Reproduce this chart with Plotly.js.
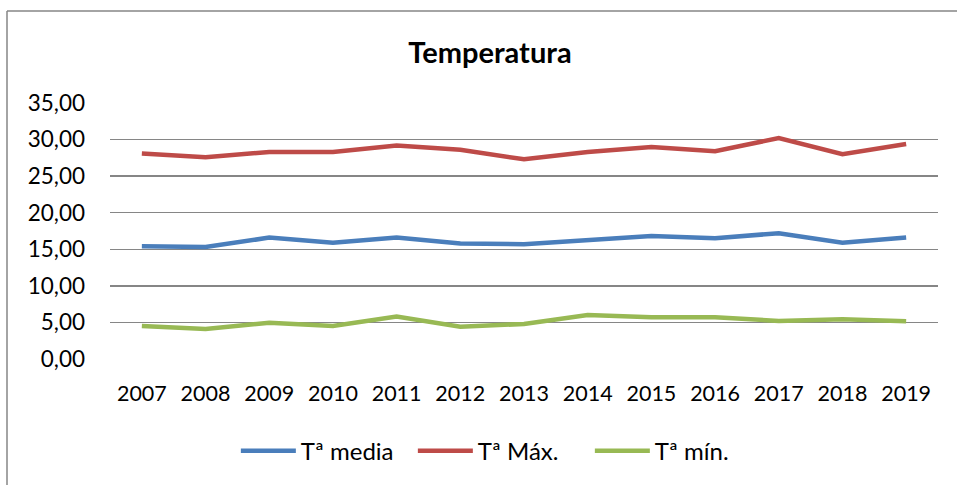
<!DOCTYPE html>
<html>
<head>
<meta charset="utf-8">
<script src="https://cdn.plot.ly/plotly-3.0.1.min.js"></script>
<style>html,body{margin:0;padding:0;background:#fff;}#chart{width:957px;height:485px;}</style>
</head>
<body>
<div id="chart"></div>
<script>
const years = ["2007","2008","2009","2010","2011","2012","2013","2014","2015","2016","2017","2018","2019"];
const tMedia = [15.4, 15.3, 16.6, 15.9, 16.6, 15.8, 15.7, 16.2, 16.8, 16.5, 17.2, 15.9, 16.6];
const tMax   = [28.1, 27.6, 28.3, 28.3, 29.2, 28.6, 27.3, 28.3, 29.0, 28.4, 30.2, 28.0, 29.4];
const tMin   = [4.5, 4.1, 4.95, 4.5, 5.8, 4.4, 4.8, 6.0, 5.7, 5.7, 5.2, 5.45, 5.15];
const seriesNames = ["Tª media", "Tª Máx.", "Tª mín."];
const colors = ["#4A7EBB", "#BE4B48", "#98B954"];

const FONT = "Lato, 'Open Sans', sans-serif";
const traces = [tMedia, tMax, tMin].map((vals, i) => ({
  type: "scatter", mode: "lines", x: years, y: vals, name: seriesNames[i],
  line: {color: colors[i], width: 4.5}, hoverinfo: "skip"
}));

const layout = {
  width: 957, height: 485,
  margin: {l: 110, r: 19, t: 103, b: 126},
  paper_bgcolor: "#fff", plot_bgcolor: "#fff",
  separators: ",.",
  font: {family: FONT, size: 21, color: "#000"},
  title: {text: "<b>Temperatura</b>", font: {family: FONT, size: 29, color: "#000"},
          x: 0.512, xanchor: "center", y: 0.891, yanchor: "middle", xref: "container", yref: "container"},
  xaxis: {type: "category", range: [-0.5, 12.5], showgrid: false, zeroline: false, showline: false,
          ticks: "", ticklabelstandoff: 19, tickfont: {family: FONT, size: 21.5, color: "#000"}},
  yaxis: {range: [0, 35], dtick: 5, tick0: 0, tickformat: ".2f", showgrid: true, gridcolor: "#868686",
          gridwidth: 1.5, zeroline: false, showline: false, ticks: "", ticklabelstandoff: 24,
          tickfont: {family: FONT, size: 22.5, color: "#000"}},
  showlegend: true,
  legend: {orientation: "h", x: 0.152, xanchor: "left", y: -0.36, yanchor: "middle",
           font: {family: FONT, size: 24, color: "#000"}, itemwidth: 55, tracegroupgap: 0,
           entrywidth: 107, entrywidthmode: "pixels"},
  shapes: [
    {type: "line", xref: "paper", yref: "paper", x0: -0.1244, x1: -0.1244, y0: 1.359, y1: -0.5,
     line: {color: "#868686", width: 1.5}},
    {type: "line", xref: "paper", yref: "paper", x0: -0.1244, x1: 1.03, y0: 1.359, y1: 1.359,
     line: {color: "#868686", width: 1.5}}
  ]
};

Plotly.newPlot("chart", traces, layout, {displayModeBar: false, staticPlot: true});
</script>
</body>
</html>
